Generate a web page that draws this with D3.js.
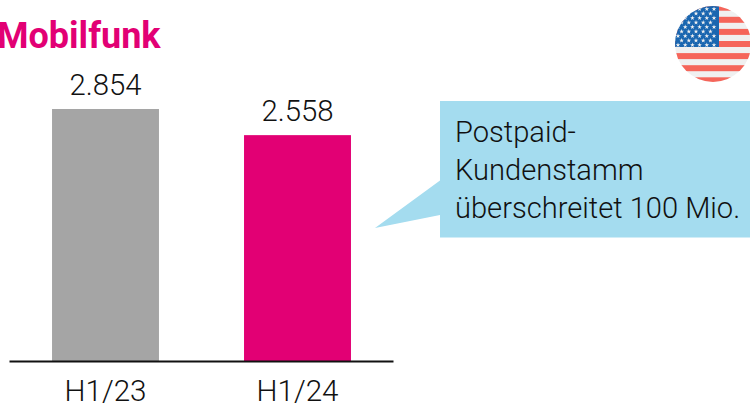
<!DOCTYPE html>
<html><head><meta charset="utf-8">
<script src="https://cdn.jsdelivr.net/npm/d3@7/dist/d3.min.js"></script>
<style>html,body{margin:0;padding:0;background:#fff}svg{display:block}text{font-family:Roboto,sans-serif}</style>
</head><body><svg id="c" width="750" height="408"></svg>
<script>
const categories = ["H1/23","H1/24"];
const values = [2854,2558];
const valueLabels = ["2.854","2.558"];
const barColors = ["#a5a5a5","#e20074"];
const title = "Mobilfunk";
const calloutLines = ["Postpaid-","Kundenstamm","überschreitet 100 Mio."];

const svg = d3.select("#c");
const baseY = 361;
const x = d3.scaleBand().domain(categories).range([9.5,393.5]).paddingInner(0.443).paddingOuter(0.2215);
const y = d3.scaleLinear().domain([0,2854]).range([baseY,109]);

svg.append("text").attr("x",-3).attr("y",48).attr("font-size",36).attr("font-weight",700).attr("fill","#e20074").text(title);

svg.selectAll("rect.bar").data(values).join("rect").attr("class","bar")
  .attr("x",(d,i)=>x(categories[i])).attr("width",x.bandwidth())
  .attr("y",d=>y(d)).attr("height",d=>baseY-y(d)).attr("fill",(d,i)=>barColors[i]);

svg.selectAll("text.val").data(values).join("text").attr("class","val")
  .attr("x",(d,i)=>x(categories[i])+x.bandwidth()/2).attr("y",d=>y(d)-14)
  .attr("text-anchor","middle").attr("font-size",29.3).attr("font-weight",300).attr("fill","#111").text((d,i)=>valueLabels[i]);

const axis = d3.axisBottom(x).tickSize(0).tickPadding(19);
const ag = svg.append("g").attr("transform",`translate(0,${baseY})`).call(axis);
ag.select(".domain").attr("stroke","#111").attr("stroke-width",2).attr("transform","translate(-0.5,0)");
ag.selectAll("text").attr("font-size",29.6).attr("font-weight",300).attr("fill","#111").style("font-family","Roboto,sans-serif");

svg.append("path").attr("fill","#a4dcef")
  .attr("d",d3.line()([[440,101],[750,101],[750,237.5],[440,237.5],[440,215],[375,228],[440,180.5]])+"Z");
svg.selectAll("text.call").data(calloutLines).join("text").attr("class","call")
  .attr("x",455).attr("y",(d,i)=>142+i*38).attr("font-size",29.1).attr("font-weight",300).attr("fill","#111").text(d=>d);

// flag
const cx=713, cy=44, r=38;
const defs=svg.append("defs");
defs.append("clipPath").attr("id","fc").append("circle").attr("cx",cx).attr("cy",cy).attr("r",r);
const f=svg.append("g").attr("clip-path","url(#fc)");
f.append("rect").attr("x",cx-r).attr("y",cy-r).attr("width",2*r).attr("height",2*r).attr("fill","#f0f0f0");
d3.range(7).forEach(k=>f.append("rect").attr("x",cx-r).attr("width",2*r).attr("y",cy+(k-3)*12.1-3).attr("height",6).attr("fill","#f5655a"));
f.append("rect").attr("x",cx-r).attr("y",cy-r).attr("width",44).attr("height",41).attr("fill","#1a66b0");
const star=d3.symbol().type(d3.symbolStar).size(7);
d3.range(9).forEach(row=>{
  const n=row%2?5:6;
  d3.range(n).forEach(c=>{
    f.append("path").attr("d",star).attr("fill","#f0f0f0")
      .attr("transform",`translate(${678+(row%2?3.6:0)+c*7.2},${9+row*4.5})`);
  });
});
</script></body></html>
